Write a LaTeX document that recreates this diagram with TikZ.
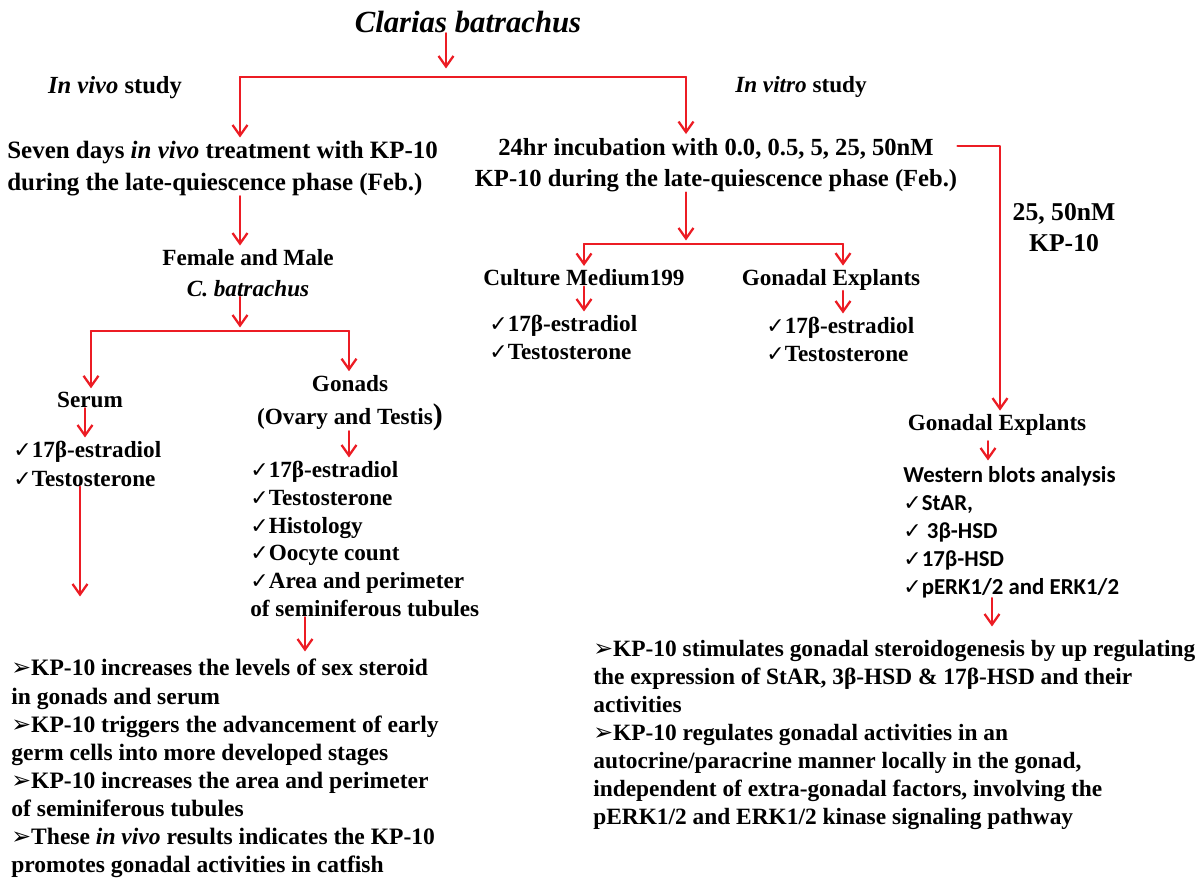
\documentclass[tikz,border=0pt]{standalone}
\usepackage{fontspec}
\setmainfont{Liberation Serif}
\setsansfont{Carlito}
\newfontfamily\symfont{DejaVu Sans}
\usetikzlibrary{arrows.meta,positioning}

\definecolor{flowred}{RGB}{236,28,36}
\newcommand{\chkmark}{{\symfont\fontsize{12.5}{10}\selectfont ✓}}
\newcommand{\barrow}{{\symfont\fontsize{13.5}{10}\selectfont ➢}}

\begin{document}
\begin{tikzpicture}[x=0.02cm,y=-0.02cm,line cap=round,line join=round,
  flow/.style={draw=flowred,line width=1.3pt,shorten >=2pt,-{Straight Barb[length=6pt,width=8.5pt,line width=1.3pt]}},
  lbl/.style={inner sep=0pt,font=\bfseries\fontsize{13.2}{16}\selectfont},
  big/.style={lbl,font=\bfseries\fontsize{14.2}{18}\selectfont},
  list/.style={lbl,anchor=north west,align=left},
  wb/.style={inner sep=0pt,anchor=north west,align=left,font=\sffamily\bfseries\fontsize{13}{15.9}\selectfont}]
\path[use as bounding box] (0,0) rectangle (1199,878);

% headings
\node[lbl,font=\bfseries\itshape\fontsize{17.5}{20}\selectfont] (clarias) at (468,22) {Clarias batrachus};
\node[lbl,font=\bfseries\fontsize{14}{16}\selectfont] (invivo) at (115,88) {\textit{In vivo} study};
\node[lbl] (invitro) at (801,87) {\textit{In vitro} study};

% in vivo branch
\node[big,anchor=north west,align=left] (seven) at (7,141) {Seven days \textit{in vivo} treatment with KP-10\\during the late-quiescence phase (Feb.)};
\node[lbl,align=center,font=\bfseries\fontsize{13.2}{17.5}\selectfont] (female) at (248,273) {Female and Male\\\textit{C. batrachus}};
\node[lbl] (serum) at (90,400) {Serum};
\node[lbl,align=center] (gonads) at (350,403) {Gonads\\[3pt](Ovary and Testis{\fontsize{17}{17}\selectfont )}};
\node[list,font=\bfseries\fontsize{13.2}{16.2}\selectfont] (serumL) at (13,441) {\chkmark 17β-estradiol\\\chkmark Testosterone};
\node[list,font=\bfseries\fontsize{13.2}{15.8}\selectfont] (gonadL) at (250,461) {\chkmark 17β-estradiol\\\chkmark Testosterone\\\chkmark Histology\\\chkmark Oocyte count\\\chkmark Area and perimeter\\of seminiferous tubules};
\node[list,font=\bfseries\fontsize{13.4}{16}\selectfont] (conclL) at (11,659) {\barrow KP-10 increases the levels of sex steroid\\in gonads and serum\\\barrow KP-10 triggers the advancement of early\\germ cells into more developed stages\\\barrow KP-10 increases the area and perimeter\\of seminiferous tubules\\\barrow These \textit{in vivo} results indicates the KP-10\\promotes gonadal activities in catfish};

% in vitro branch
\node[big,align=center,font=\bfseries\fontsize{14}{18}\selectfont] (vitro) at (716,165) {24hr incubation with 0.0, 0.5, 5, 25, 50nM\\KP-10 during the late-quiescence phase (Feb.)};
\node[lbl] (culture) at (584,278) {Culture Medium199};
\node[lbl] (gonadex) at (831,280) {Gonadal Explants};
\node[list,font=\bfseries\fontsize{13.2}{15.9}\selectfont] (cultureL) at (489,315) {\chkmark 17β-estradiol\\\chkmark Testosterone};
\node[list,font=\bfseries\fontsize{13.2}{15.9}\selectfont] (gonadexL) at (766,317) {\chkmark 17β-estradiol\\\chkmark Testosterone};
\node[lbl,align=center,font=\bfseries\fontsize{14.6}{17.6}\selectfont] (dose) at (1064,228) {25, 50nM\\KP-10};
\node[lbl] (gonadex2) at (997,425) {Gonadal Explants};
\node[wb] (western) at (903,466) {Western blots analysis\\\chkmark StAR,\\\chkmark\ 3β-HSD\\\chkmark 17β-HSD\\\chkmark pERK1/2 and ERK1/2};
\node[list,font=\bfseries\fontsize{13.3}{15.9}\selectfont] (conclR) at (593,640) {\barrow KP-10 stimulates gonadal steroidogenesis by up regulating\\the expression of StAR, 3β-HSD \& 17β-HSD and their\\activities\\\barrow KP-10 regulates gonadal activities in an\\autocrine/paracrine manner locally in the gonad,\\independent of extra-gonadal factors, involving the\\pERK1/2 and ERK1/2 kinase signaling pathway};

% connector points
\coordinate (split) at (446,72);
\coordinate (vivoC) at (240,77);
\coordinate (vitroC) at (686,77);
\coordinate (fork2) at (240,331);
\coordinate (serumC) at (91,331);
\coordinate (gonadC) at (349,331);
\coordinate (serumA) at (85,410);
\coordinate (drop) at (80,600);
\coordinate (gdrop) at (305,655);
\coordinate (fork3) at (686,244);
\coordinate (cultC) at (584,244);
\coordinate (gexC) at (843,244);
\coordinate (side) at (1000,146);
\coordinate (wtop) at (988,464);
\coordinate (ctop) at (992,630);

% top split
\draw[flow] (clarias.south -| split) -- (split);
\draw[flow] (vitroC) -- (vivoC) -- (seven.north -| vivoC);
\draw[flow] (vivoC) -- (vitroC) -- (vitro.north -| vitroC);

% in vivo arrows
\draw[flow] (seven.south -| vivoC) -- (female.north -| vivoC);
\draw[flow] (female.south -| fork2) -- (fork2);
\draw[flow] (gonadC) -- (serumC) -- (serum.north -| serumC);
\draw[flow] (serumC) -- (gonadC) -- (gonads.north -| gonadC);
\draw[flow] (serum.south -| serumA) -- (serumL.north -| serumA);
\draw[flow] (gonads.south -| gonadC) -- (gonadL.north -| gonadC);
\draw[flow] (serumL.south -| drop) -- (drop);
\draw[flow] (gonadL.south -| gdrop) -- (gdrop);

% in vitro arrows
\draw[flow] (vitro.south -| fork3) -- (fork3);
\draw[flow] (gexC) -- (cultC) -- (culture.north -| cultC);
\draw[flow] (cultC) -- (gexC) -- (gonadex.north -| gexC);
\draw[flow] (culture.south -| cultC) -- (cultureL.north -| cultC);
\draw[flow] (gonadex.south -| gexC) -- (gonadexL.north -| gexC);
\draw[flow] (vitro.east |- side) -- (side) -- (gonadex2.north -| side);
\draw[flow] ([yshift=-3pt]gonadex2.south -| wtop) -- (wtop);
\draw[flow] (western.south -| ctop) -- (ctop);
\end{tikzpicture}
\end{document}
